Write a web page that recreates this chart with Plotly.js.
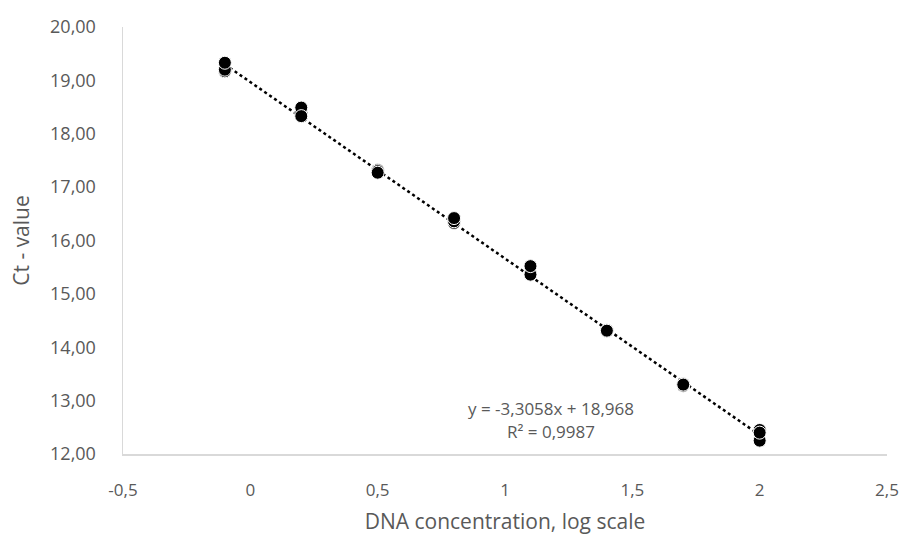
<!DOCTYPE html>
<html>
<head>
<meta charset="utf-8">
<script src="https://cdn.plot.ly/plotly-3.0.1.min.js"></script>
<style>html,body{margin:0;padding:0;background:#fff;}#chart{width:904px;height:537px;}</style>
</head>
<body>
<div id="chart"></div>
<script>
// DNA concentration (log scale), triplicates
const logConc = [-0.1, -0.1, -0.1, 0.2, 0.2, 0.2, 0.5, 0.5, 0.5, 0.8, 0.8, 0.8, 1.1, 1.1, 1.1, 1.4, 1.4, 1.4, 1.7, 1.7, 1.7, 2.0, 2.0, 2.0];
const ctValues = [19.17, 19.20, 19.33, 18.40, 18.49, 18.33, 17.32, 17.30, 17.27, 16.33, 16.36, 16.42, 15.38, 15.36, 15.52, 14.30, 14.32, 14.31, 13.28, 13.31, 13.30, 12.45, 12.25, 12.40];
// Axis ticks
const xTickVals = [-0.5, 0, 0.5, 1, 1.5, 2, 2.5];
const xTickText = ["-0,5", "0", "0,5", "1", "1,5", "2", "2,5"];
// Trendline from the chart's label
const slope = -3.3058;
const intercept = 18.968;
const trendX = [-0.1, 2.0];
const eqText = "y = -3,3058x + 18,968";
const r2Text = "R² = 0,9987";

const font = "Open Sans, Noto Sans, sans-serif";
const grey = "#595959";

const traces = [
  {
    x: trendX,
    y: trendX.map(v => slope * v + intercept),
    mode: "lines",
    line: {color: "#000", width: 2.5, dash: "dot"},
    hoverinfo: "skip",
    showlegend: false
  },
  {
    x: logConc,
    y: ctValues,
    mode: "markers",
    marker: {color: "#000", size: 13, line: {color: "#fff", width: 1}},
    showlegend: false
  }
];

const layout = {
  width: 904, height: 537,
  margin: {l: 123, r: 17, t: 27, b: 83},
  paper_bgcolor: "#fff", plot_bgcolor: "#fff",
  separators: ", ",
  font: {family: font, color: grey, size: 17},
  showlegend: false,
  xaxis: {
    range: [-0.5, 2.5], tickmode: "array", tickvals: xTickVals, ticktext: xTickText,
    showgrid: false, zeroline: false,
    showline: true, linecolor: "#d9d9d9", linewidth: 1.5,
    ticks: "", ticklabelstandoff: 20,
    tickfont: {family: font, size: 17, color: grey},
    title: {text: "DNA concentration, log scale", font: {family: font, size: 21, color: grey}, standoff: 14}
  },
  yaxis: {
    range: [12, 20], dtick: 1, tickformat: ".2f",
    showgrid: false, zeroline: false,
    showline: true, linecolor: "#d9d9d9", linewidth: 1.5,
    ticks: "", ticklabelstandoff: 22,
    tickfont: {family: font, size: 18, color: grey},
    title: {text: "Ct - value", font: {family: font, size: 21, color: grey}, standoff: 14}
  },
  annotations: [
    {x: 1.18, y: 12.85, xref: "x", yref: "y", text: eqText, showarrow: false, font: {family: font, size: 17, color: grey}},
    {x: 1.18, y: 12.42, xref: "x", yref: "y", text: r2Text, showarrow: false, font: {family: font, size: 17, color: grey}}
  ]
};

Plotly.newPlot("chart", traces, layout, {displayModeBar: false, staticPlot: true});
</script>
</body>
</html>
